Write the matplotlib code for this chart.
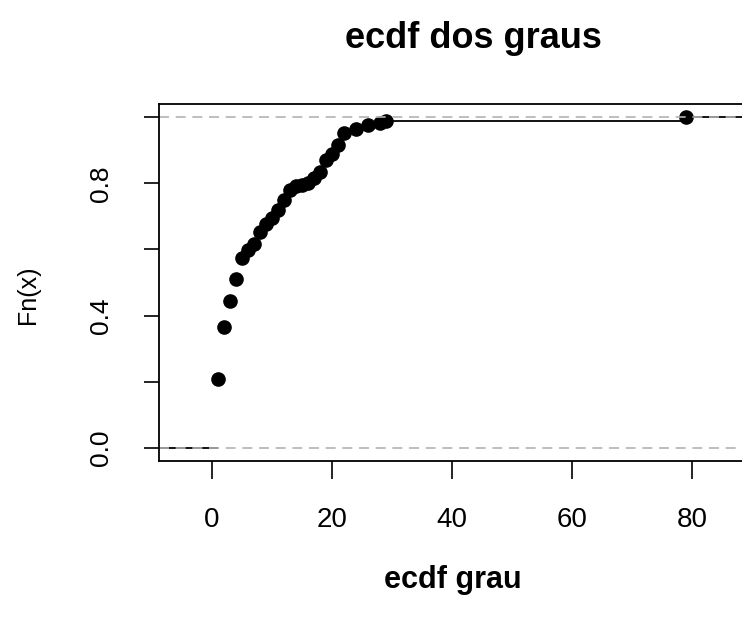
import numpy as np
import matplotlib.pyplot as plt

plt.rcParams['font.family'] = ['Liberation Sans', 'DejaVu Sans']

# observed degrees (knots) and the empirical cdf at each one
grau = [1, 2, 3, 4, 5, 6, 7, 8, 9, 10, 11, 12, 13, 14, 15, 16, 17, 18,
        19, 20, 21, 22, 24, 26, 28, 29, 79]
fn = [0.207, 0.366, 0.445, 0.512, 0.573, 0.598, 0.616, 0.652, 0.677,
      0.695, 0.720, 0.750, 0.780, 0.793, 0.796, 0.800, 0.817, 0.835,
      0.870, 0.890, 0.915, 0.951, 0.963, 0.976, 0.982, 0.990, 1.000]

x = np.array(grau, dtype=float)
y = np.array(fn)

# step extension like plot.stepfun
dr = max(0.08 * (x[-1] - x[0]), np.median(np.diff(x)))
lo, hi = x[0] - dr, x[-1] + dr
pad = 0.04 * (hi - lo)

fig = plt.figure(figsize=(7.42, 6.21), dpi=100)
ax = fig.add_axes([158.5 / 742, 160 / 621, (745 - 158.5) / 742, 357 / 621])

# horizontal steps, outer ones run past the plot region
ax.hlines(0, lo - dr, x[0], color='black', lw=1.3)
ax.hlines(y[:-1], x[:-1], x[1:], color='black', lw=1.3)
ax.hlines(y[-1], x[-1], hi + dr, color='black', lw=1.3)
ax.plot(x, y, 'o', color='black', ms=9.5)

for h in (0, 1):
    ax.axhline(h, color='#b3b3b3', lw=1.2, ls=(0, (6, 4)))

ax.set_xlim(lo - pad, hi + pad)
ax.set_ylim(-0.04, 1.04)

ax.set_xticks([0, 20, 40, 60, 80])
ax.set_yticks([0, 0.2, 0.4, 0.6, 0.8, 1.0])
ax.set_yticklabels(['0.0', '', '0.4', '', '0.8', ''])
for t in ax.get_yticklabels():
    t.set_rotation(90)
    t.set_va('center')

ax.tick_params(axis='x', length=13, width=1.2, pad=20, labelsize=20)
ax.tick_params(axis='y', length=11, width=1.2, pad=22, labelsize=19)
for s in ax.spines.values():
    s.set_linewidth(1.3)
ax.spines['right'].set_visible(False)

fig.text(473 / 742, 1 - 38 / 621, 'ecdf dos graus', ha='center', va='center',
         fontsize=26, fontweight='bold')
fig.text(453 / 742, 1 - 580 / 621, 'ecdf grau', ha='center', va='center',
         fontsize=22, fontweight='bold')
fig.text(28 / 742, 1 - 295 / 621, 'Fn(x)', ha='center', va='center',
         fontsize=18, rotation=90)

fig.savefig('out.png', dpi=100)
